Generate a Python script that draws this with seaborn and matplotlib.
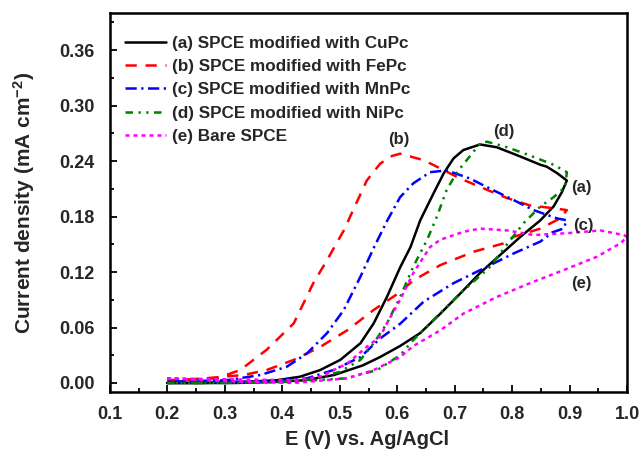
import pandas as pd
import matplotlib
matplotlib.use("Agg")
import matplotlib.pyplot as plt
import seaborn as sns
from matplotlib.ticker import MultipleLocator, FormatStrFormatter

# each loop: forward (lower) branch 0.2 -> end, then reverse (upper) branch back to 0.2
cu_E = [0.20, 0.26, 0.32, 0.38, 0.44, 0.49, 0.54, 0.57, 0.605, 0.64, 0.675, 0.71, 0.744, 0.78, 0.814,
        0.849, 0.872, 0.886, 0.895,
        0.878, 0.860, 0.849, 0.814, 0.773, 0.744, 0.715, 0.698, 0.681, 0.663, 0.640, 0.623, 0.605,
        0.582, 0.559, 0.536, 0.501, 0.466, 0.431, 0.391, 0.33, 0.26, 0.20]
cu_j = [0.000, 0.000, 0.000, 0.001, 0.003, 0.0086, 0.019, 0.028, 0.040, 0.054, 0.075, 0.097, 0.119, 0.139, 0.158,
        0.176, 0.191, 0.206, 0.219,
        0.227, 0.234, 0.236, 0.245, 0.255, 0.258, 0.252, 0.243, 0.227, 0.205, 0.176, 0.147, 0.125,
        0.093, 0.0645, 0.043, 0.025, 0.014, 0.0068, 0.003, 0.001, 0.000, 0.000]

fe_E = [0.20, 0.246, 0.333, 0.373, 0.420, 0.466, 0.513, 0.559, 0.602, 0.628, 0.675, 0.733, 0.785, 0.802,
        0.849, 0.883, 0.895,
        0.872, 0.831, 0.791, 0.756, 0.710, 0.675, 0.646, 0.605, 0.588, 0.570, 0.547, 0.507, 0.478, 0.454,
        0.420, 0.373, 0.327, 0.286, 0.20]
fe_j = [0.002, 0.004, 0.0086, 0.014, 0.025, 0.039, 0.057, 0.079, 0.097, 0.111, 0.1275, 0.142, 0.151, 0.158,
        0.167, 0.178, 0.187,
        0.189, 0.192, 0.200, 0.209, 0.221, 0.232, 0.241, 0.248, 0.245, 0.237, 0.219, 0.165, 0.133, 0.108,
        0.0645, 0.036, 0.014, 0.005, 0.003]

mn_E = [0.20, 0.30, 0.362, 0.443, 0.489, 0.536, 0.570, 0.605, 0.646, 0.698, 0.744, 0.802, 0.849, 0.870,
        0.889, 0.895,
        0.878, 0.837, 0.802, 0.762, 0.727, 0.686, 0.657, 0.628, 0.605, 0.582, 0.559, 0.536, 0.507, 0.478,
        0.443, 0.408, 0.362, 0.304, 0.20]
mn_j = [0.001, 0.0014, 0.0014, 0.005, 0.014, 0.028, 0.048, 0.064, 0.088, 0.108, 0.122, 0.140, 0.153, 0.163,
        0.167, 0.176,
        0.178, 0.187, 0.198, 0.210, 0.221, 0.230, 0.228, 0.216, 0.201, 0.175, 0.146, 0.115, 0.079, 0.054,
        0.032, 0.0176, 0.0086, 0.003, 0.0014]

ni_E = [0.20, 0.30, 0.40, 0.512, 0.565, 0.605, 0.628, 0.669, 0.710, 0.762, 0.791, 0.820, 0.849, 0.872,
        0.892, 0.895,
        0.872, 0.831, 0.791, 0.756, 0.744, 0.704, 0.686, 0.669, 0.652, 0.628, 0.605, 0.582, 0.559, 0.536,
        0.50, 0.45, 0.40, 0.30, 0.20]
ni_j = [0.000, 0.000, 0.001, 0.005, 0.014, 0.030, 0.0465, 0.072, 0.097, 0.126, 0.150, 0.173, 0.191, 0.201,
        0.212, 0.228,
        0.236, 0.246, 0.255, 0.261, 0.259, 0.228, 0.209, 0.180, 0.155, 0.126, 0.093, 0.0645, 0.043, 0.025,
        0.012, 0.004, 0.001, 0.000, 0.000]

bare_E = [0.20, 0.30, 0.42, 0.513, 0.559, 0.605, 0.628, 0.675, 0.715, 0.773, 0.831, 0.889, 0.947, 0.988, 1.00,
          0.994, 0.953, 0.895, 0.837, 0.791, 0.744, 0.715, 0.675, 0.657, 0.628, 0.605, 0.582, 0.570,
          0.547, 0.513, 0.466, 0.420, 0.30, 0.20]
bare_j = [0.005, 0.002, 0.000, 0.005, 0.014, 0.028, 0.040, 0.057, 0.075, 0.093, 0.108, 0.122, 0.1365, 0.151, 0.158,
          0.160, 0.165, 0.162, 0.160, 0.165, 0.167, 0.1635, 0.155, 0.147, 0.119, 0.090, 0.0645, 0.050,
          0.039, 0.021, 0.0068, 0.003, 0.004, 0.005]

labels = ['(a) SPCE modified with CuPc', '(b) SPCE modified with FePc', '(c) SPCE modified with MnPc',
          '(d) SPCE modified with NiPc', '(e) Bare SPCE']

sns.set_theme(style="ticks")
plt.rcParams["font.family"] = ["Liberation Sans", "DejaVu Sans"]
plt.rcParams["font.weight"] = "bold"
plt.rcParams["axes.labelweight"] = "bold"
plt.rcParams["mathtext.fontset"] = "custom"
plt.rcParams["mathtext.rm"] = "Liberation Sans:bold"
plt.rcParams["mathtext.bf"] = "Liberation Sans:bold"
plt.rcParams["mathtext.default"] = "bf"

fig, ax = plt.subplots(figsize=(6.42, 4.55), dpi=100)
fig.subplots_adjust(left=0.171, right=0.977, bottom=0.138, top=0.971)

curves = [(cu_E, cu_j, 'black', None),
          (fe_E, fe_j, 'red', (4.5, 3.5)),
          (mn_E, mn_j, 'blue', (4.5, 1.8, 0.9, 1.8)),
          (ni_E, ni_j, 'green', (3, 2.2, 0.9, 2.2, 0.9, 2.2)),
          (bare_E, bare_j, 'magenta', (1.6, 1.6))]

for (E, j, col, dash), lab in zip(curves, labels):
    d = pd.DataFrame({'E': E, 'j': j})
    sns.lineplot(data=d, x='E', y='j', ax=ax, sort=False, estimator=None, color=col,
                 linewidth=1.8, label=lab)
    if dash is not None:
        ax.lines[-1].set_dashes(dash)

ax.set_xlim(0.1, 1.0)
ax.set_ylim(-0.01, 0.40)
ax.xaxis.set_major_locator(MultipleLocator(0.1))
ax.xaxis.set_minor_locator(MultipleLocator(0.05))
ax.xaxis.set_major_formatter(FormatStrFormatter('%.1f'))
ax.set_yticks([0.0, 0.06, 0.12, 0.18, 0.24, 0.30, 0.36])
ax.yaxis.set_minor_locator(MultipleLocator(0.03))
ax.yaxis.set_major_formatter(FormatStrFormatter('%.2f'))
ax.tick_params(which='both', direction='in', labelsize=13, width=1.3, color='black')
ax.tick_params(axis='x', which='major', pad=10)
ax.tick_params(axis='y', which='major', pad=11)
ax.tick_params(which='major', length=5)
ax.tick_params(which='minor', length=3)
for s in ax.spines.values():
    s.set_linewidth(1.8)
    s.set_color('black')

ax.set_xlabel('E (V) vs. Ag/AgCl', fontsize=14.5)
ax.set_ylabel('Current density (mA cm$^{-2}$)', fontsize=15)
ax.xaxis.set_label_coords(0.497, -0.1)
ax.yaxis.set_label_coords(-0.14, 0.5)

for txt, x, y in [('(a)', 0.921, 0.211), ('(b)', 0.602, 0.263), ('(c)', 0.924, 0.170),
                  ('(d)', 0.785, 0.272), ('(e)', 0.921, 0.108)]:
    ax.text(x, y, txt, fontsize=12, ha='center', va='center')

ax.legend(loc='upper left', bbox_to_anchor=(0.03, 0.94), frameon=False, fontsize=12.3,
          handlelength=2.4, handletextpad=0.35, labelspacing=0.48, borderaxespad=0, borderpad=0)

fig.savefig('out.png', dpi=100)
